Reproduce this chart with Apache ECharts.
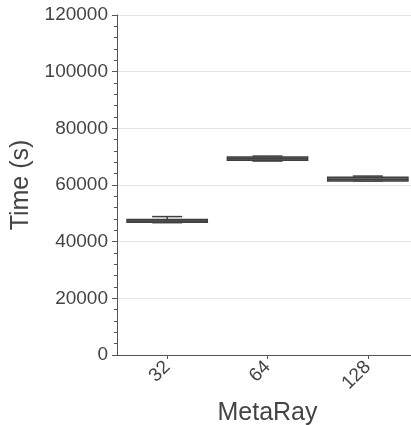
<!DOCTYPE html>
<html>
<head>
<meta charset="utf-8">
<script src="https://cdn.jsdelivr.net/npm/echarts@6/dist/echarts.min.js"></script>
<style>
html,body{margin:0;padding:0;background:#fff;}
#c{width:411px;height:425px;}
</style>
</head>
<body>
<div id="c"></div>
<script>
var categories = ['32', '64', '128'];
var whiskerLow = [46700, 68450, 61450];
var q1 = [46850, 68750, 61450];
var median = [47300, 69300, 62000];
var q3 = [47850, 69850, 62750];
var whiskerHigh = [48850, 70200, 63150];
var yTicks = [0, 20000, 40000, 60000, 80000, 100000, 120000];

var data = categories.map(function (c, i) {
  return [i, whiskerLow[i], q1[i], median[i], q3[i], whiskerHigh[i]];
});

var chart = echarts.init(document.getElementById('c'), null, {renderer: 'canvas'});
var font = "'Liberation Sans', Arial, sans-serif";
var textColor = '#444';

chart.setOption({
  animation: false,
  grid: {left: 117, right: -7, top: 15, bottom: 70, containLabel: false, outerBoundsMode: 'none'},
  xAxis: {
    type: 'category',
    data: categories,
    boundaryGap: true,
    name: 'MetaRay',
    nameLocation: 'middle',
    nameGap: 45,
    nameTextStyle: {fontSize: 25, color: textColor, fontFamily: font},
    axisLine: {show: true, lineStyle: {color: '#555', width: 1}},
    axisTick: {show: true, alignWithLabel: true, length: 4, lineStyle: {color: '#555'}},
    axisLabel: {rotate: 45, fontSize: 19, color: textColor, fontFamily: font, margin: 9},
    splitLine: {show: false}
  },
  yAxis: {
    type: 'value',
    min: yTicks[0],
    max: yTicks[yTicks.length - 1],
    interval: 20000,
    name: 'Time (s)',
    nameLocation: 'middle',
    nameGap: 77,
    nameRotate: 90,
    nameTextStyle: {fontSize: 25, color: textColor, fontFamily: font},
    axisLine: {show: true, lineStyle: {color: '#555', width: 1}},
    axisTick: {show: true, length: 5, lineStyle: {color: '#555'}},
    minorTick: {show: true, splitNumber: 5, length: 3, lineStyle: {color: '#555'}},
    axisLabel: {fontSize: 19, color: textColor, fontFamily: font, margin: 9,
      formatter: function (v) { return String(v); }},
    splitLine: {show: true, lineStyle: {color: '#e3e3e3', width: 1}}
  },
  series: [{
    type: 'custom',
    clip: false,
    data: data,
    encode: {x: 0, y: [1, 2, 3, 4, 5]},
    renderItem: function (params, api) {
      var idx = api.value(0);
      var band = api.size([1, 0])[0];
      var boxW = band * 0.8;
      var capW = band * 0.3;
      var pLow = api.coord([idx, api.value(1)]);
      var pQ1 = api.coord([idx, api.value(2)]);
      var pMed = api.coord([idx, api.value(3)]);
      var pQ3 = api.coord([idx, api.value(4)]);
      var pHigh = api.coord([idx, api.value(5)]);
      var cx = pQ1[0];
      var stroke = '#3f3f3f';
      var ls = {stroke: stroke, lineWidth: 1.5};
      return {
        type: 'group',
        children: [
          {type: 'line', shape: {x1: cx, y1: pQ3[1], x2: cx, y2: pHigh[1]}, style: ls},
          {type: 'line', shape: {x1: cx, y1: pQ1[1], x2: cx, y2: pLow[1]}, style: ls},
          {type: 'line', shape: {x1: cx - capW / 2, y1: pHigh[1], x2: cx + capW / 2, y2: pHigh[1]}, style: ls},
          {type: 'line', shape: {x1: cx - capW / 2, y1: pLow[1], x2: cx + capW / 2, y2: pLow[1]}, style: ls},
          {type: 'rect', shape: {x: cx - boxW / 2, y: pQ3[1], width: boxW, height: pQ1[1] - pQ3[1]},
            style: {fill: '#8a8a8a', stroke: stroke, lineWidth: 1.5}},
          {type: 'line', shape: {x1: cx - boxW / 2, y1: pMed[1], x2: cx + boxW / 2, y2: pMed[1]}, style: ls}
        ]
      };
    }
  }]
});
</script>
</body>
</html>
